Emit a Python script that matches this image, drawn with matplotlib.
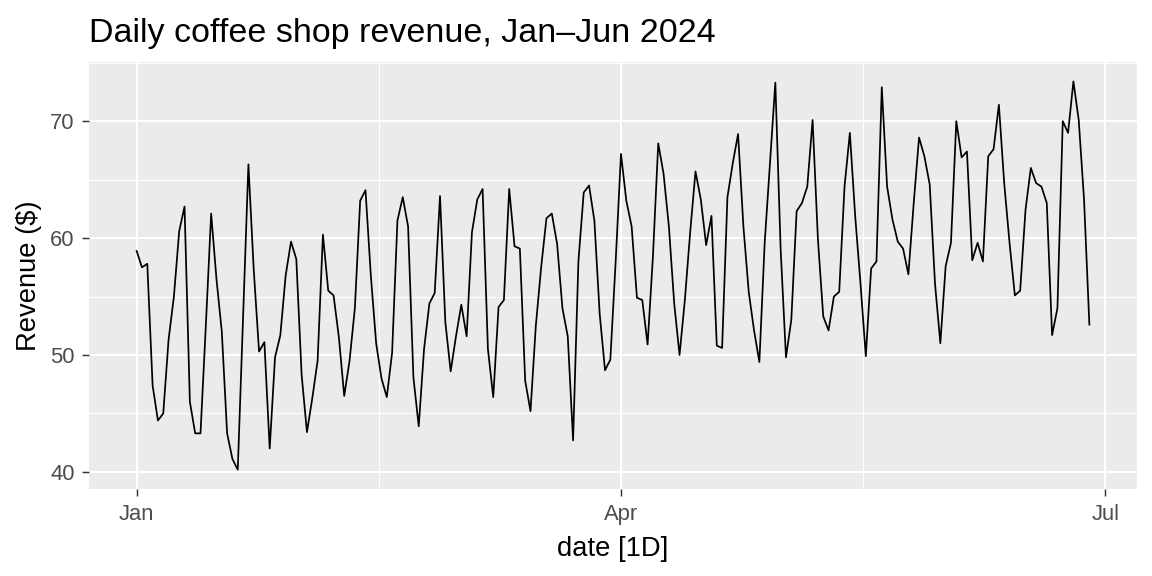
import numpy as np
import pandas as pd
import matplotlib
matplotlib.use("Agg")
import matplotlib.pyplot as plt
import matplotlib.dates as mdates

# daily revenue (Jan 1 .. Jun 28 2024)
start_date = "2024-01-01"
revenue = [
    58.9, 57.5, 57.8, 47.4, 44.4, 45.0, 51.3, 55.0, 60.6, 62.7,
    46.0, 43.3, 43.3, 52.5, 62.1, 56.5, 52.0, 43.3, 41.1, 40.2,
    53.2, 66.3, 57.3, 50.3, 51.1, 42.0, 49.8, 51.7, 56.8, 59.7,
    58.2, 48.3, 43.4, 46.3, 49.5, 60.3, 55.5, 55.1, 51.5, 46.5,
    49.5, 54.0, 63.2, 64.1, 56.8, 51.0, 48.0, 46.4, 50.2, 61.5,
    63.5, 61.0, 48.1, 43.9, 50.5, 54.4, 55.3, 63.6, 52.8, 48.6,
    51.6, 54.3, 51.6, 60.5, 63.3, 64.2, 50.5, 46.4, 54.1, 54.7,
    64.2, 59.3, 59.1, 47.8, 45.2, 52.5, 57.5, 61.7, 62.1, 59.5,
    54.0, 51.6, 42.7, 58.0, 63.9, 64.5, 61.5, 53.5, 48.7, 49.6,
    58.0, 67.2, 63.2, 61.0, 54.9, 54.7, 50.9, 58.4, 68.1, 65.5,
    61.0, 54.4, 50.0, 54.7, 60.5, 65.7, 63.3, 59.4, 61.9, 50.8,
    50.6, 63.5, 66.4, 68.9, 61.0, 55.4, 52.1, 49.4, 59.6, 66.5,
    73.3, 59.0, 49.8, 53.0, 62.3, 63.0, 64.4, 70.1, 59.9, 53.3,
    52.1, 55.0, 55.4, 64.4, 69.0, 61.9, 56.1, 49.9, 57.4, 58.0,
    72.9, 64.4, 61.6, 59.7, 59.1, 56.9, 63.0, 68.6, 67.0, 64.6,
    56.1, 51.0, 57.6, 59.6, 70.0, 66.9, 67.4, 58.1, 59.6, 58.0,
    67.0, 67.6, 71.4, 64.7, 59.6, 55.1, 55.5, 62.4, 66.0, 64.7,
    64.4, 63.0, 51.7, 54.0, 70.0, 69.0, 73.4, 70.1, 63.3, 52.6,
]
dates = pd.date_range(start_date, periods=len(revenue), freq="D")

x_breaks = ["2024-01-01", "2024-04-01", "2024-07-01"]
x_labels = ["Jan", "Apr", "Jul"]
y_breaks = [40, 50, 60, 70]

plt.rcParams["font.family"] = ["Liberation Sans", "DejaVu Sans"]

fig = plt.figure(figsize=(12, 6), dpi=96)
W, H = 1152, 576
# panel box in pixels (left, top, right, bottom)
pl, pt, pr, pb = 89, 62, 1137, 489
ax = fig.add_axes([pl / W, 1 - pb / H, (pr - pl) / W, (pb - pt) / H])

ax.plot(dates, revenue, color="black", linewidth=1.3)

# ggplot-like 5% expansion
xnum = mdates.date2num(dates)
xr = xnum.max() - xnum.min()
ax.set_xlim(xnum.min() - 0.05 * xr, xnum.max() + 0.05 * xr)
yr = max(revenue) - min(revenue)
ax.set_ylim(min(revenue) - 0.05 * yr, max(revenue) + 0.05 * yr)

# breaks
xb = mdates.date2num(pd.to_datetime(x_breaks))
ax.set_xticks(xb)
ax.set_xticklabels(x_labels)
ax.set_xticks((xb[:-1] + xb[1:]) / 2, minor=True)
ax.set_yticks(y_breaks)
ax.set_yticks([45, 55, 65, 75], minor=True)

# theme_gray look
ax.set_facecolor("#EBEBEB")
for s in ax.spines.values():
    s.set_visible(False)
ax.grid(which="major", color="white", linewidth=1.5)
ax.grid(which="minor", color="white", linewidth=0.8)
ax.set_axisbelow(True)
ax.tick_params(which="major", length=5.25, width=1.1, color="#333333",
               labelcolor="#4D4D4D", labelsize=16.5)
ax.tick_params(axis="x", which="major", pad=6)
ax.tick_params(axis="y", which="major", pad=5.5)
ax.tick_params(which="minor", length=0)

ax.set_xlabel("date [1D]", fontsize=20.5, color="black", labelpad=8)
ax.set_ylabel("Revenue ($)", fontsize=20.5, color="black", labelpad=6)
fig.text(pl / W, 1 - 42 / H, "Daily coffee shop revenue, Jan\u2013Jun 2024",
         fontsize=25.5, ha="left", va="baseline")

fig.savefig("out.png", dpi=96)
